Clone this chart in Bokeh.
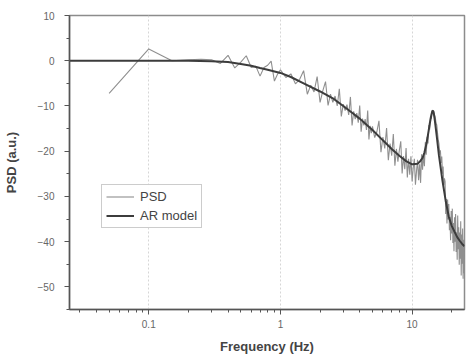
import numpy as np
from bokeh.plotting import figure
from bokeh.models import Range1d, FixedTicker, CustomJSTickFormatter
from bokeh.embed import file_html
from bokeh.resources import INLINE

# ---- data ----
psd_freq_low = [round(0.05 * i, 2) for i in range(1, 21)]          # 0.05 .. 1.0
psd_freq_mid = [round(1.0 + 0.1 * i, 1) for i in range(1, 41)]     # 1.1 .. 5.0
psd_freq_high = [round(5.0 + 0.2 * i, 1) for i in range(1, 101)]   # 5.2 .. 25.0

psd_db_low = [-7.2, 2.6, 0.0, 0.2, 0.3, 0.2, -0.6, 1.2, -1.6, -0.3,
              1.1, -1.5, -1.2, -3.4, -1.5, -1.0, -0.1, -4.5, -3.0, -2.0]
psd_db_mid = [-3.7, -2.9, -5.1, -4.1, -2.2, -7.4, -5.4, -6.9, -3.5, -9.2,
              -6.6, -4.6, -9.9, -7.4, -9.2, -7.8, -10.0, -6.2, -12.3, -9.6,
              -11.0, -9.7, -12.0, -8.0, -14.3, -11.2, -12.9, -11.6, -13.7, -9.9,
              -15.7, -12.8, -14.3, -12.9, -15.3, -11.0, -17.4, -14.4, -16.0, -14.5]
psd_db_high = [-17.0, -15.7, -13.3, -20.2, -16.9, -19.4, -14.9, -22.0, -18.3, -21.0,
               -16.2, -23.2, -19.5, -22.3, -19.8, -17.8, -24.9, -21.1, -24.0, -19.3,
               -25.8, -21.7, -25.2, -21.1, -26.7, -23.7, -21.7, -27.4, -24.4, -21.9,
               -26.4, -22.9, -27.0, -20.7, -24.1, -20.7, -23.3, -18.0, -20.8, -16.8,
               -18.3, -14.2, -15.2, -12.2, -12.8, -10.9, -11.3, -11.1, -12.0, -12.5,
               -13.8, -14.2, -16.0, -17.5, -18.4, -20.5, -19.8, -22.6, -21.2, -25.0,
               -23.4, -27.5, -26.0, -26.7, -33.9, -30.6, -36.0, -30.7, -35.1, -31.7,
               -37.5, -34.5, -39.7, -33.2, -38.2, -32.7, -40.3, -35.9, -42.1, -34.6,
               -40.0, -33.9, -42.3, -37.9, -44.0, -34.2, -41.7, -36.8, -45.1, -38.0,
               -43.8, -35.5, -47.5, -38.4, -44.9, -37.1, -48.2, -39.6, -47.0, -38.4]

ar_freq = [0.025, 0.05, 0.1, 0.2, 0.3, 0.4, 0.5, 0.6, 0.7, 0.8,
           1.0, 1.2, 1.5, 2.0, 2.5, 3.0, 3.5, 4.0, 5.0, 6.0,
           7.0, 8.0, 9.0, 10.0, 11.0, 11.6, 12.0, 12.4, 12.8, 13.2,
           13.6, 14.0, 14.2, 14.4, 14.6, 14.8, 15.0, 15.4, 16.0, 16.6,
           17.0, 18.0, 19.0, 20.0, 21.0, 22.0, 23.0, 24.0, 25.0]
ar_db = [0, 0, 0, 0, -0.1, -0.3, -0.7, -1.1, -1.6, -2.0,
         -2.7, -3.6, -5.0, -6.8, -8.3, -10.0, -11.5, -12.8, -15.3, -17.6,
         -19.5, -21.0, -22.2, -22.9, -22.8, -22.1, -21.5, -20.3, -18.6, -16.4,
         -14.0, -12.0, -11.3, -11.0, -11.6, -12.7, -14.0, -16.8, -21.0, -24.3,
         -26.5, -31.0, -34.5, -36.5, -37.8, -39.0, -39.8, -40.5, -41.0]

x_major = [0.1, 1, 10]
y_major = [-50, -40, -30, -20, -10, 0, 10]

psd_freq = psd_freq_low + psd_freq_mid + psd_freq_high
psd_db = psd_db_low + psd_db_mid + psd_db_high

# ---- figure ----
FONT = "Liberation Sans"
p = figure(width=466, height=356, x_axis_type="log",
           x_range=Range1d(0.025, 25), y_range=Range1d(-55, 10),
           output_backend="svg", toolbar_location=None,
           min_border_left=68, min_border_right=2,
           min_border_top=15, min_border_bottom=45)

p.line(psd_freq, psd_db, line_color="#8f8f8f", line_width=1.1, legend_label="PSD")
p.line(ar_freq, ar_db, line_color="#3c3c3c", line_width=2.0, legend_label="AR model")

x_minor = [k * 0.01 for k in range(3, 10)] + [k * 0.1 for k in range(2, 10)] + \
          [float(k) for k in range(2, 10)] + [20.0]
p.xaxis.ticker = FixedTicker(ticks=x_major, minor_ticks=x_minor)
p.xaxis.formatter = CustomJSTickFormatter(code="return tick.toString();")
p.yaxis.ticker = FixedTicker(ticks=y_major,
                             minor_ticks=[-55, -45, -35, -25, -15, -5, 5])

for ax in (p.xaxis[0], p.yaxis[0]):
    ax.axis_line_color = "#555555"
    ax.axis_line_width = 1.5
    ax.major_tick_line_color = "#555555"
    ax.minor_tick_line_color = "#555555"
    ax.major_tick_out = 5
    ax.major_tick_in = 0
    ax.minor_tick_out = 3
    ax.minor_tick_in = 0
    ax.major_label_text_font = FONT
    ax.major_label_text_font_size = "10px"
    ax.major_label_text_color = "#666666"
    ax.axis_label_text_font = FONT
    ax.axis_label_text_font_size = "13px"
    ax.axis_label_text_font_style = "bold"
    ax.axis_label_text_color = "#444444"

p.xaxis.axis_label = "Frequency (Hz)"
p.yaxis.axis_label = "PSD (a.u.)"
p.xaxis.major_label_standoff = 5
p.xaxis.axis_label_standoff = 8
p.yaxis.major_label_standoff = 10
p.yaxis.axis_label_standoff = 16

p.xgrid.grid_line_color = "#d6d6d6"
p.xgrid.grid_line_dash = "2 2"
p.xgrid.grid_line_width = 1
p.ygrid.visible = False

p.outline_line_color = "#8c8c8c"
p.outline_line_width = 1.5

lg = p.legend[0]
lg.location = (32, 81)
lg.label_text_font = FONT
lg.label_text_font_size = "13px"
lg.label_text_color = "#444444"
lg.glyph_width = 28
lg.glyph_height = 13
lg.label_height = 13
lg.label_standoff = 6
lg.spacing = 4
lg.padding = 4
lg.margin = 0
lg.border_line_color = "#999999"
lg.border_line_width = 1.5
lg.background_fill_color = "white"

open("out.html", "w").write(file_html(p, INLINE))
